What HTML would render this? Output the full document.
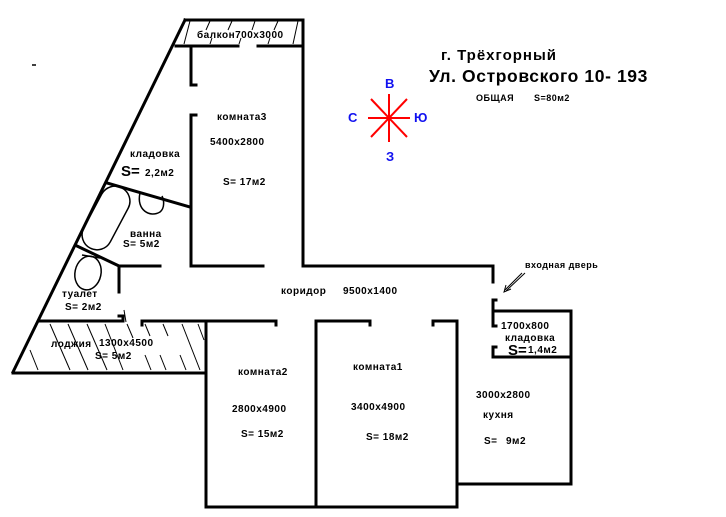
<!DOCTYPE html>
<html><head><meta charset="utf-8"><style>
html,body{margin:0;padding:0;background:#fff;}
svg{display:block;}
text{font-family:"Liberation Sans",Arial,sans-serif;font-weight:bold;fill:#000;}
</style></head><body>
<svg width="726" height="517" viewBox="0 0 726 517" xmlns="http://www.w3.org/2000/svg">
<rect width="726" height="517" fill="#fff"/>
<g stroke="#000" stroke-width="3" fill="none" stroke-linecap="square">
<line x1="185" y1="20" x2="13" y2="372"/>
<line x1="185" y1="20" x2="303" y2="20"/>
<line x1="176" y1="46" x2="238" y2="46"/>
<line x1="258" y1="46" x2="303" y2="46"/>
<line x1="303" y1="20" x2="303" y2="266"/>
<polyline points="196,85 191,85 191,48"/>
<polyline points="196,115 191,115 191,266 263,266"/>
<polyline points="303,266 493,266 493,282"/>
<polyline points="496,300 493,300 493,326 496,326"/>
<polyline points="493,311 571,311 571,484"/>
<line x1="493" y1="357" x2="571" y2="357"/>
<polyline points="496,347 493,347 493,357"/>
<polyline points="433,321 457,321 457,507"/>
<line x1="457" y1="484" x2="571" y2="484"/>
<polyline points="370,325 370,321 316,321 316,507"/>
<line x1="433" y1="321" x2="433" y2="325"/>
<line x1="206" y1="507" x2="457" y2="507"/>
<polyline points="142,325 142,321 276,321 276,325"/>
<line x1="206" y1="321" x2="206" y2="507"/>
<polyline points="40,321 123,321 123,316 119,316"/>
<line x1="13" y1="373" x2="206" y2="373"/>
<line x1="107" y1="183" x2="190" y2="207"/>
<line x1="77" y1="246" x2="119" y2="266"/>
<line x1="119" y1="266" x2="160" y2="266"/>
<line x1="119" y1="266" x2="119" y2="292"/>
</g>
<g stroke="#000" stroke-width="1">
<line x1="190" y1="21" x2="184" y2="44"/>
<line x1="210" y1="21" x2="206" y2="30"/>
<line x1="232" y1="21" x2="228" y2="30"/>
<line x1="255" y1="21" x2="252" y2="30"/>
<line x1="278" y1="21" x2="274" y2="30"/>
<line x1="298" y1="21" x2="293" y2="44"/>
<line x1="212" y1="38" x2="210" y2="44"/>
<line x1="241" y1="38" x2="239" y2="44"/>
<line x1="270" y1="38" x2="268" y2="44"/>
<line x1="50" y1="324" x2="70" y2="370"/>
<line x1="68" y1="324" x2="88" y2="370"/>
<line x1="87" y1="324" x2="107" y2="370"/>
<line x1="105" y1="324" x2="123" y2="370"/>
<line x1="127" y1="324" x2="133" y2="338"/>
<line x1="145" y1="324" x2="150" y2="336"/>
<line x1="163" y1="324" x2="168" y2="336"/>
<line x1="182" y1="324" x2="200" y2="370"/>
<line x1="198" y1="324" x2="204" y2="340"/>
<line x1="30" y1="350" x2="38" y2="370"/>
<line x1="145" y1="355" x2="151" y2="370"/>
<line x1="160" y1="355" x2="166" y2="370"/>
<line x1="180" y1="355" x2="186" y2="370"/>
<line x1="124" y1="310" x2="126" y2="322"/>
</g>
<g stroke="#000" stroke-width="1.5" fill="none">
<rect x="-15" y="-34" width="30" height="68" rx="15" transform="translate(106,218) rotate(28)"/>
<path d="M140,193 C136,210 150,218 160,212 C165,208 164,200 162,196"/>
<ellipse cx="88" cy="273" rx="13" ry="17" transform="rotate(12 88 273)"/>
<path d="M82,255 L100,258"/>
</g>
<line x1="32" y1="65" x2="36" y2="65" stroke="#000" stroke-width="1.5"/>
<g stroke="#000" stroke-width="1" fill="none">
<line x1="525" y1="273" x2="506" y2="291"/>
<line x1="522" y1="273" x2="505" y2="290"/>
<polyline points="506,285 504,292 511,289"/>
</g>
<g stroke="#f00" stroke-width="2">
<line x1="368" y1="118" x2="410" y2="118"/>
<line x1="389" y1="94" x2="389" y2="142"/>
<line x1="371" y1="99" x2="407" y2="137"/>
<line x1="407" y1="99" x2="371" y2="137"/>
</g>
<g font-size="13">
<text x="385" y="88" style="fill:#1010f0">В</text>
<text x="348" y="122" style="fill:#1010f0">С</text>
<text x="414" y="122" style="fill:#1010f0">Ю</text>
<text x="386" y="161" style="fill:#1010f0">З</text>
</g>
<text x="441" y="60" font-size="15" letter-spacing="1">г. Трёхгорный</text>
<text x="429" y="82" font-size="17.5" letter-spacing="0.6">Ул. Островского 10- 193</text>
<text x="476" y="101" font-size="9" letter-spacing="0.5">ОБЩАЯ</text>
<text x="534" y="101" font-size="9" letter-spacing="0.5">S=80м2</text>
<g font-size="10" letter-spacing="0.5">
<text x="197" y="38">балкон700х3000</text>
<text x="217" y="120">комната3</text>
<text x="210" y="145">5400х2800</text>
<text x="223" y="185">S= 17м2</text>
<text x="130" y="157">кладовка</text>
<text x="145" y="176">2,2м2</text>
<text x="130" y="237">ванна</text>
<text x="123" y="247">S= 5м2</text>
<text x="62" y="297">туалет</text>
<text x="65" y="310">S= 2м2</text>
<text x="51" y="347">лоджия</text>
<text x="99" y="346">1300х4500</text>
<text x="95" y="359">S= 5м2</text>
<text x="281" y="294">коридор</text>
<text x="343" y="294">9500х1400</text>
<text x="238" y="375">комната2</text>
<text x="232" y="412">2800х4900</text>
<text x="241" y="437">S= 15м2</text>
<text x="353" y="370">комната1</text>
<text x="351" y="410">3400х4900</text>
<text x="366" y="440">S= 18м2</text>
<text x="476" y="398">3000х2800</text>
<text x="483" y="418">кухня</text>
<text x="484" y="444">S=</text>
<text x="506" y="444">9м2</text>
<text x="501" y="329">1700х800</text>
<text x="505" y="341">кладовка</text>
<text x="528" y="353">1,4м2</text>
<text x="525" y="268" font-size="9">входная дверь</text>
</g>
<text x="121" y="176" font-size="15">S=</text>
<text x="508" y="355" font-size="15">S=</text>
</svg>
</body></html>
